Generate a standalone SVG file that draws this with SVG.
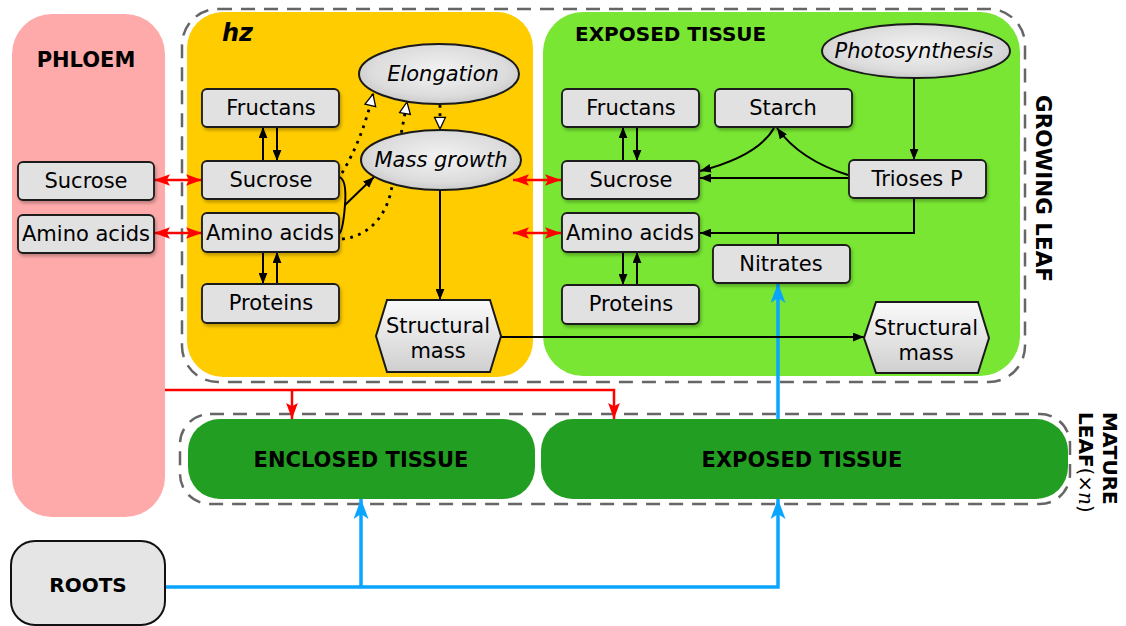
<svg xmlns="http://www.w3.org/2000/svg" width="1126" height="626" viewBox="0 0 1126 626">
<style>
text{font-family:"DejaVu Sans","Liberation Sans",sans-serif;fill:#000}
.lbl{font-size:21px;text-anchor:middle}
.hd{font-size:21px;font-weight:bold}
.it{font-style:italic}
.box{fill:#e1e1e1;stroke:#1a1a1a;stroke-width:1.8;filter:url(#sh)}
.ell{fill:url(#eg);stroke:#1a1a1a;stroke-width:2}
.hex{fill:url(#hg);stroke:#1a1a1a;stroke-width:2}
.dash{fill:none;stroke:#666;stroke-width:2.5;stroke-dasharray:14 9}
.k{fill:none;stroke:#000;stroke-width:2}
.kd{fill:none;stroke:#000;stroke-width:2.8;stroke-dasharray:2.8 5.5}
.r{fill:none;stroke:#ff0000;stroke-width:2.5}
.b{fill:none;stroke:#0aa5ff;stroke-width:3.5}
</style>
<defs>
<filter id="sh" x="-10%" y="-20%" width="125%" height="150%"><feDropShadow dx="1.5" dy="2.5" stdDeviation="1.8" flood-color="#000" flood-opacity="0.25"/></filter>
<radialGradient id="eg" cx="50%" cy="45%" r="60%"><stop offset="0" stop-color="#f3f3f3"/><stop offset="0.7" stop-color="#dcdcdc"/><stop offset="1" stop-color="#c4c4c4"/></radialGradient>
<linearGradient id="hg" x1="0" y1="0" x2="0" y2="1"><stop offset="0" stop-color="#fafafa"/><stop offset="1" stop-color="#cfcfcf"/></linearGradient>
<marker id="ak" viewBox="0 0 10 8" refX="10" refY="4" markerWidth="11" markerHeight="9" orient="auto" markerUnits="userSpaceOnUse"><path d="M0,0 L10,4 L0,8 z" fill="#000"/></marker>
<marker id="aw" viewBox="0 0 12 12" refX="11" refY="6" markerWidth="14" markerHeight="14" orient="auto" markerUnits="userSpaceOnUse"><path d="M1,1.3 L11,6 L1,10.7 z" fill="#fff" stroke="#000" stroke-width="1.1"/></marker>
<marker id="ar" viewBox="0 0 15 11" refX="15" refY="5.5" markerWidth="16" markerHeight="12" orient="auto-start-reverse" markerUnits="userSpaceOnUse"><path d="M0,0 L15,5.5 L0,11 L3,5.5 z" fill="#ff0000"/></marker>
<marker id="ab" viewBox="0 0 20 15" refX="20" refY="7.5" markerWidth="20" markerHeight="15" orient="auto" markerUnits="userSpaceOnUse"><path d="M0,0 L20,7.5 L0,15 L5,7.5 z" fill="#0aa5ff"/></marker>
</defs>

<g id="phloem">
<rect x="12" y="14" width="153" height="503" rx="40" fill="#ffaaaa"/>
<text class="hd" x="86" y="67" text-anchor="middle">PHLOEM</text>
</g>
<g id="growing-leaf">
<rect class="dash" x="182" y="9" width="843" height="373" rx="36"/>
<text class="hd" transform="translate(1036,95) rotate(90)" style="font-size:21.5px">GROWING LEAF</text>
</g>
<g id="hz">
<rect x="187" y="12" width="346" height="365" rx="36" fill="#ffcc00"/>
<text x="222" y="41" style="font-size:24px;font-weight:bold;font-style:italic">hz</text>
</g>
<g id="exposed-growing">
<rect x="543" y="12" width="477" height="364" rx="40" fill="#78e632"/>
<text class="hd" x="575" y="41" style="font-size:20px">EXPOSED TISSUE</text>
</g>
<g id="mature-leaf">
<rect class="dash" x="180" y="414" width="890" height="90" rx="30"/>
<text class="hd" transform="translate(1103,412) rotate(90)" style="font-size:20px">MATURE</text>
<text class="hd" transform="translate(1079,412) rotate(90)" style="font-size:20px">LEAF<tspan style="font-weight:normal">(×</tspan><tspan style="font-weight:normal;font-style:italic;font-family:'DejaVu Serif',serif">n</tspan><tspan style="font-weight:normal">)</tspan></text>
</g>
<g id="enclosed-tissue">
<rect x="188" y="419" width="347" height="80" rx="32" fill="#229f22"/>
<text class="hd" x="361" y="467" text-anchor="middle">ENCLOSED TISSUE</text>
</g>
<g id="exposed-mature">
<rect x="541" y="419" width="527" height="80" rx="32" fill="#229f22"/>
<text class="hd" x="802" y="467" text-anchor="middle">EXPOSED TISSUE</text>
</g>

<g id="connectors">
<path class="r" d="M154,180 H202" marker-start="url(#ar)" marker-end="url(#ar)"/>
<path class="r" d="M154,233 H202" marker-start="url(#ar)" marker-end="url(#ar)"/>
<path class="r" d="M513,180 H561" marker-start="url(#ar)" marker-end="url(#ar)"/>
<path class="r" d="M513,233 H561" marker-start="url(#ar)" marker-end="url(#ar)"/>
<path class="r" d="M165,390 H614 V419" marker-end="url(#ar)"/>
<path class="r" d="M292,390 V419" marker-end="url(#ar)"/>
<path class="b" d="M165,587 H778 V499" marker-end="url(#ab)"/>
<path class="b" d="M361,587 V499" marker-end="url(#ab)"/>
<path class="b" d="M778,419 V283" marker-end="url(#ab)"/>
<path class="k" d="M263,161 V127" marker-end="url(#ak)"/>
<path class="k" d="M277,127 V161" marker-end="url(#ak)"/>
<path class="k" d="M263,252 V284" marker-end="url(#ak)"/>
<path class="k" d="M277,284 V252" marker-end="url(#ak)"/>
<path class="k" d="M339,177 Q347,179 345,205 Q343,231 339,234"/>
<path class="k" d="M345,205 L374,177" marker-end="url(#ak)"/>
<path class="kd" d="M342,173 Q362,140 373,94" marker-end="url(#aw)"/>
<path class="kd" d="M342,239 C372,236 388,212 392,186 C396,160 402,130 407,102" marker-end="url(#aw)"/>
<path class="kd" d="M440,105 V129" marker-end="url(#aw)"/>
<path class="k" d="M440,190 V300" marker-end="url(#ak)"/>
<path class="k" d="M501,337 H864" marker-end="url(#ak)"/>
<path class="k" d="M623,161 V127" marker-end="url(#ak)"/>
<path class="k" d="M637,127 V161" marker-end="url(#ak)"/>
<path class="k" d="M623,252 V285" marker-end="url(#ak)"/>
<path class="k" d="M637,285 V252" marker-end="url(#ak)"/>
<path class="k" d="M914,78 V160" marker-end="url(#ak)"/>
<path class="k" d="M849,178 H700" marker-end="url(#ak)"/>
<path class="k" d="M848,175 Q800,160 777,128" marker-end="url(#ak)"/>
<path class="k" d="M774,128 Q758,156 700,171" marker-end="url(#ak)"/>
<path class="k" d="M914,198 V233 H700" marker-end="url(#ak)"/>
<path class="k" d="M778,245 V233"/>
</g>

<g id="phloem-sucrose"><rect class="box" x="18" y="162" width="136" height="38" rx="5"/><text class="lbl" x="86" y="188">Sucrose</text></g>
<g id="phloem-amino"><rect class="box" x="18" y="215" width="136" height="38" rx="5"/><text class="lbl" x="86" y="241">Amino acids</text></g>

<g id="hz-fructans"><rect class="box" x="202" y="89" width="137" height="38" rx="5"/><text class="lbl" x="271" y="115">Fructans</text></g>
<g id="hz-sucrose"><rect class="box" x="202" y="161" width="137" height="38" rx="5"/><text class="lbl" x="271" y="187">Sucrose</text></g>
<g id="hz-amino"><rect class="box" x="202" y="213" width="137" height="39" rx="5"/><text class="lbl" x="270" y="240">Amino acids</text></g>
<g id="hz-proteins"><rect class="box" x="202" y="284" width="137" height="39" rx="5"/><text class="lbl" x="271" y="310">Proteins</text></g>
<g id="elongation"><ellipse class="ell" cx="439" cy="74" rx="80" ry="30"/><text class="lbl it" x="443" y="81">Elongation</text></g>
<g id="mass-growth"><ellipse class="ell" cx="441" cy="160" rx="80" ry="30"/><text class="lbl it" x="441" y="167">Mass growth</text></g>
<g id="hz-structural"><polygon class="hex" points="387,300 490,300 501,336 490,372 387,372 376,336"/><text class="lbl" x="438" y="333">Structural</text><text class="lbl" x="438" y="358">mass</text></g>

<g id="photosynthesis"><ellipse class="ell" cx="916" cy="51" rx="94" ry="27"/><text class="lbl it" x="914" y="58">Photosynthesis</text></g>
<g id="ex-fructans"><rect class="box" x="562" y="89" width="137" height="38" rx="5"/><text class="lbl" x="631" y="115">Fructans</text></g>
<g id="ex-starch"><rect class="box" x="715" y="89" width="137" height="38" rx="5"/><text class="lbl" x="783" y="115">Starch</text></g>
<g id="ex-sucrose"><rect class="box" x="562" y="161" width="137" height="38" rx="5"/><text class="lbl" x="631" y="187">Sucrose</text></g>
<g id="ex-trioses"><rect class="box" x="849" y="160" width="137" height="38" rx="5"/><text class="lbl" x="917" y="186">Trioses P</text></g>
<g id="ex-amino"><rect class="box" x="562" y="213" width="137" height="39" rx="5"/><text class="lbl" x="630" y="240">Amino acids</text></g>
<g id="ex-nitrates"><rect class="box" x="713" y="245" width="137" height="38" rx="5"/><text class="lbl" x="781" y="271">Nitrates</text></g>
<g id="ex-proteins"><rect class="box" x="562" y="285" width="137" height="39" rx="5"/><text class="lbl" x="631" y="311">Proteins</text></g>
<g id="ex-structural"><polygon class="hex" points="876,302 978,302 989,338 978,373 876,373 864,338"/><text class="lbl" x="926" y="335">Structural</text><text class="lbl" x="926" y="360">mass</text></g>

<g id="roots"><rect x="11" y="541" width="154" height="84" rx="24" fill="#e5e5e5" stroke="#111" stroke-width="2"/><text class="hd" x="88" y="592" text-anchor="middle" style="font-size:20px">ROOTS</text></g>
</svg>
